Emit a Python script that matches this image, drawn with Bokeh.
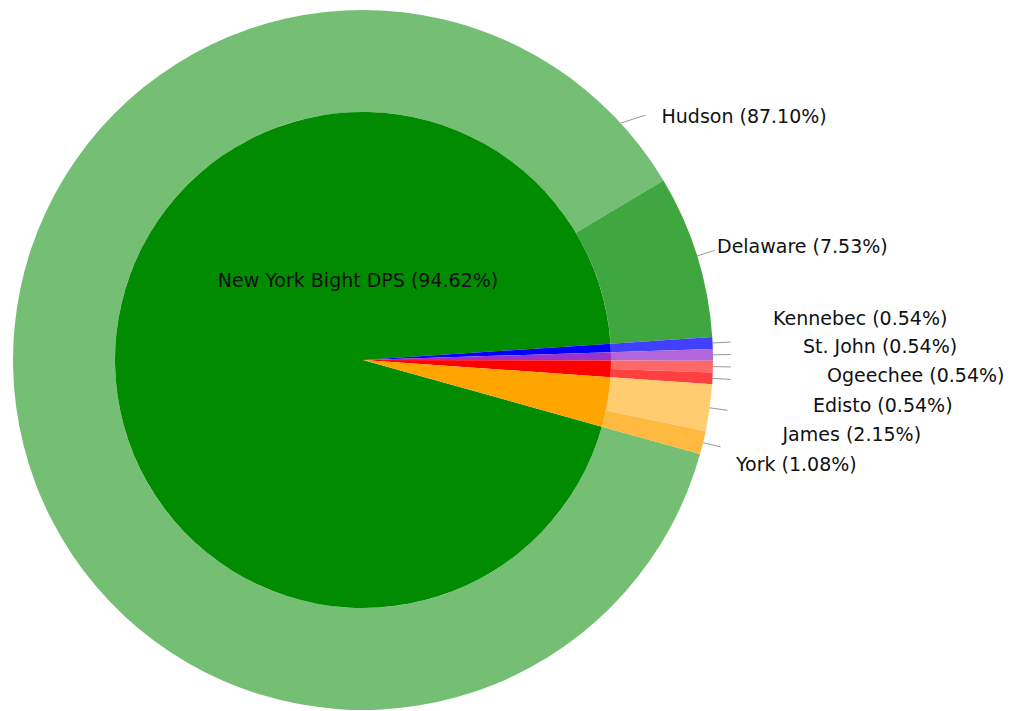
import numpy as np
from bokeh.plotting import figure
from bokeh.models import ColumnDataSource, Range1d
from bokeh.core.properties import value
from bokeh.embed import file_html
from bokeh.resources import INLINE

# ---------------- data ----------------
outer_names = ["Hudson", "Delaware", "Kennebec", "St. John", "Ogeechee", "Edisto", "James", "York"]
outer_counts = [162, 14, 1, 1, 1, 1, 4, 2]
outer_colors = ["#75bf75", "#40a640", "#4040ff", "#b066d9", "#ff6868", "#ff4040", "#ffcc6f", "#ffb940"]

inner_names = ["New York Bight DPS", "Gulf of Maine DPS", "Canada", "South Atlantic DPS", "Chesapeake Bay DPS"]
inner_counts = [176, 1, 1, 2, 6]
inner_colors = ["#008b00", "#0000ff", "#9933cc", "#ff0000", "#ffa500"]

# ---------------- layout ----------------
W, H = 1008, 710
CX, CY = 362.5, H - 359.5   # centre (data units = pixels, y up)
R_OUT, R_IN = 350, 248
START_DEG = -15.6           # slices run clockwise from here
TXT_SHIFT = 8               # renderer places baseline this far below y

# label placement (left x, baseline y from top) in page pixels
label_pos = {
    "Hudson": (661, 123.3), "Delaware": (716.5, 253.3), "Kennebec": (772.5, 325),
    "St. John": (802.5, 353.5), "Ogeechee": (826.5, 382.3), "Edisto": (812.5, 412.3),
    "James": (782, 441.7), "York": (735.5, 471.7),
}
inner_label_pos = (357.5, 287.3)
hudson_leader_deg = 42.6


def angles(counts):
    c = np.asarray(counts, dtype=float)
    frac = c / c.sum()
    cum = np.concatenate([[0.0], np.cumsum(frac)])
    start = np.deg2rad(START_DEG) - cum[:-1] * 2 * np.pi
    end = np.deg2rad(START_DEG) - cum[1:] * 2 * np.pi
    return frac, start, end


ofrac, ostart, oend = angles(outer_counts)
ifrac, istart, iend = angles(inner_counts)

p = figure(width=W, height=H, output_backend="svg", toolbar_location=None,
           x_range=Range1d(0, W), y_range=Range1d(0, H), min_border=0)
p.axis.visible = False
p.grid.visible = False
p.outline_line_color = None
p.background_fill_color = "white"

osrc = ColumnDataSource(dict(start=ostart, end=oend, color=outer_colors, name=outer_names))
p.annular_wedge(x=CX, y=CY, inner_radius=R_IN, outer_radius=R_OUT, start_angle="start",
                end_angle="end", direction="clock", fill_color="color", line_color=None,
                source=osrc)

isrc = ColumnDataSource(dict(start=istart, end=iend, color=inner_colors, name=inner_names))
p.wedge(x=CX, y=CY, radius=R_IN, start_angle="start", end_angle="end", direction="clock",
        fill_color="color", line_color=None, source=isrc)

# outer labels with leader lines
xs, ys, tx, ty, tt = [], [], [], [], []
for name, f, s, e in zip(outer_names, ofrac, ostart, oend):
    mid = (s + e) / 2
    if name == "Hudson":
        a = np.deg2rad(hudson_leader_deg)
        x0, y0 = CX + R_OUT * np.cos(a), CY + R_OUT * np.sin(a)
        x1, y1 = x0 + 25, y0 + 8
    else:
        x0, y0 = CX + R_OUT * np.cos(mid), CY + R_OUT * np.sin(mid)
        x1, y1 = CX + (R_OUT + 18) * np.cos(mid), CY + (R_OUT + 18) * np.sin(mid)
    xs.append([x0, x1]); ys.append([y0, y1])
    lx, ly = label_pos[name]
    tx.append(lx); ty.append(H - (ly - TXT_SHIFT))
    tt.append(f"{name} ({f * 100:.2f}%)")

p.multi_line(xs=xs, ys=ys, line_color="#999999", line_width=1)
p.text(x=tx, y=ty, text=tt, text_font=value("DejaVu Sans"), text_font_size="19px",
       text_color="#111111", text_baseline="alphabetic", text_align="left")

# inner label (largest slice only)
p.text(x=[inner_label_pos[0]], y=[H - (inner_label_pos[1] - TXT_SHIFT)],
       text=[f"{inner_names[0]} ({ifrac[0] * 100:.2f}%)"],
       text_font=value("DejaVu Sans"), text_font_size="19px", text_color="#111111",
       text_baseline="alphabetic", text_align="center")

open("out.html", "w").write(file_html(p, INLINE))
